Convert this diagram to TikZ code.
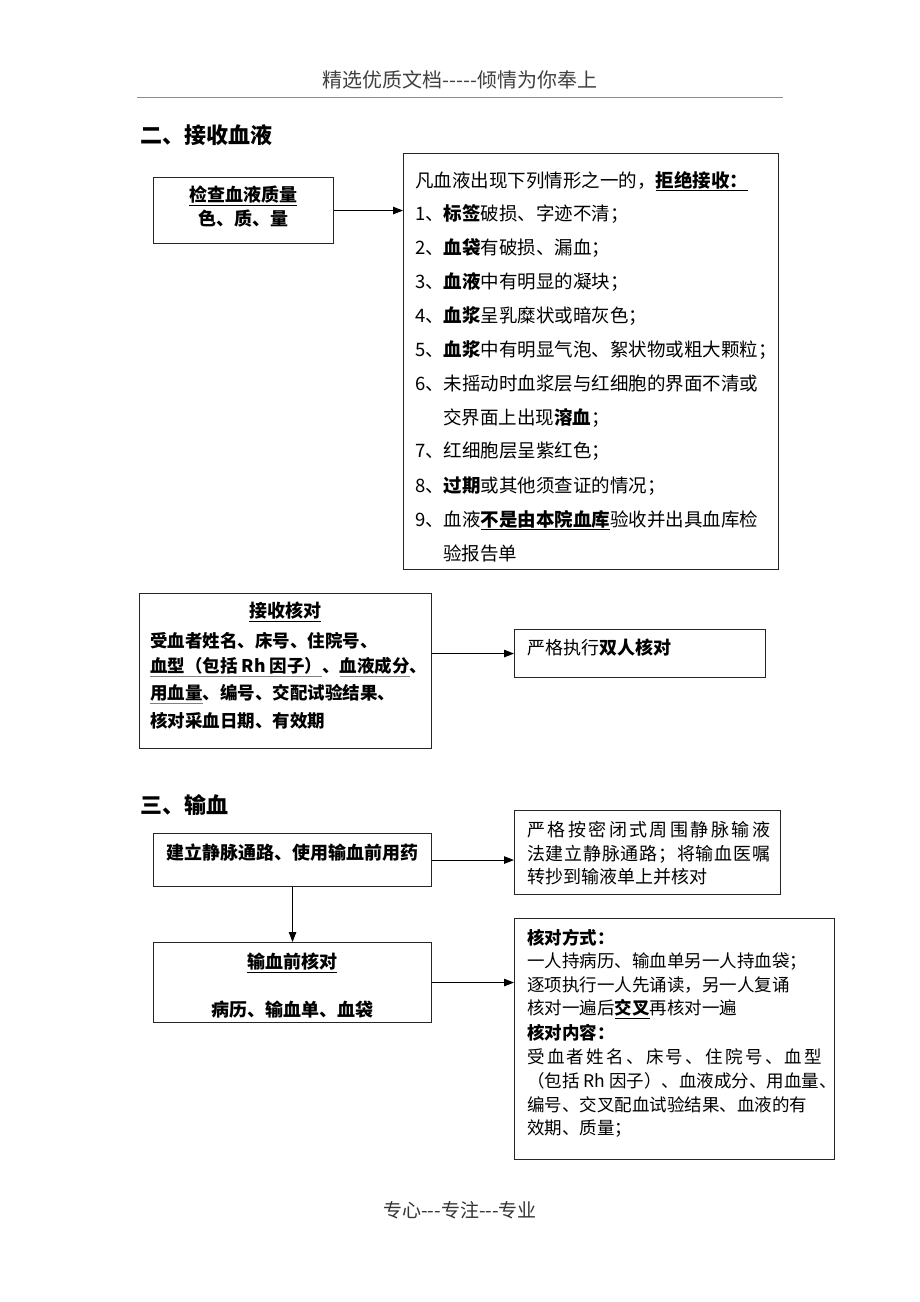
\documentclass[tikz,border=0pt]{standalone}
\usepackage{fontspec}
\setmainfont{Noto Sans CJK SC}[Ligatures=TeXOff]
\usetikzlibrary{arrows.meta}
\newcommand\gul[1]{{\color{gray}\underline{\color{black}#1}}}
\newcommand\bul[1]{\underline{\textbf{#1}}}
\newcommand\spr[2]{\makebox[#1][s]{#2}}
\tikzset{
  box/.style={draw=black!85, line width=1.1pt, inner sep=0pt, anchor=north west},
  txt/.style={anchor=west, inner sep=0pt, font=\fontsize{18}{22}\selectfont},
  txtH/.style={anchor=west, inner sep=0pt, font=\fontsize{17.5}{22}\selectfont},
  txtB/.style={anchor=west, inner sep=0pt, font=\fontsize{18.5}{22}\selectfont},
  ctxt/.style={anchor=center, inner sep=0pt, font=\fontsize{18}{22}\selectfont},
  head/.style={anchor=west, inner sep=0pt, font=\fontsize{22}{26}\selectfont\bfseries},
  arr/.style={-{Triangle[length=10pt,width=7.5pt]}, line width=1.1pt}
}
\begin{document}
\begin{tikzpicture}[x=1pt,y=-1pt]
\useasboundingbox[fill=white] (0,0) rectangle (920,1302);
% header / footer
\node[inner sep=0pt, font=\fontsize{20}{24}\selectfont, text=black!75] (hdr) at (460,80) {精选优质文档-----倾情为你奉上};
\draw[black!45, line width=0.6pt] (137,97) -- (783,97);
\node[inner sep=0pt, font=\fontsize{19}{23}\selectfont, text=black!80] (ftr) at (460,1210) {专心---专注---专业};

% section 2
\node[head] (h2) at (140,135) {二、接收血液};
\node[box, minimum width=180pt, minimum height=66pt] (A) at (153,177) {};
\node[ctxt] (a1) at (243,196) {\bul{检查血液质量}};
\node[ctxt] (a2) at (243,219) {\textbf{色、质、量}};

\node[box, minimum width=375pt, minimum height=416pt] (B) at (403,153) {};
\node[txtB] (b0) at (415,181) {凡血液出现下列情形之一的，\bul{拒绝接收：}};
\node[txtB] (b1) at (415,214) {1、\textbf{标签}破损、字迹不清；};
\node[txtB] (b2) at (415,248) {2、\textbf{血袋}有破损、漏血；};
\node[txtB] (b3) at (415,282) {3、\textbf{血液}中有明显的凝块；};
\node[txtB] (b4) at (415,316) {4、\textbf{血浆}呈乳糜状或暗灰色；};
\node[txtB] (b5) at (415,350) {5、\textbf{血浆}中有明显气泡、絮状物或粗大颗粒；};
\node[txtB] (b6) at (415,384) {6、未摇动时血浆层与红细胞的界面不清或};
\node[txtB] (b6b) at (443,418) {交界面上出现\textbf{溶血}；};
\node[txtB] (b7) at (415,451) {7、红细胞层呈紫红色；};
\node[txtB] (b8) at (415,486) {8、\textbf{过期}或其他须查证的情况；};
\node[txtB] (b9) at (415,520) {9、血液\bul{不是由本院血库}验收并出具血库检};
\node[txtB] (b9b) at (443,553) {验报告单};
\draw[arr] (A.east) -- (A.east -| B.west);

\node[box, minimum width=292pt, minimum height=155pt] (C) at (139,593) {};
\node[ctxt] (c0) at (285,612) {\bul{接收核对}};
\node[txtH] (c1) at (150,641) {\textbf{受血者姓名、床号、住院号、}};
\node[txtH] (c2) at (150,667) {\textbf{\gul{血型（包括 Rh 因子）}、\gul{血液成分}、}};
\node[txtH] (c3) at (150,694) {\textbf{\gul{用血量}、编号、交配试验结果、}};
\node[txtH] (c4) at (150,721) {\textbf{核对采血日期、有效期}};

\node[box, minimum width=251pt, minimum height=48pt] (D) at (514,629) {};
\node[txt] (d1) at (527,648) {严格执行\textbf{双人核对}};
\draw[arr] (C.east |- D.west) -- (D.west);

% section 3
\node[head] (h3) at (140,805) {三、输血};
\node[box, minimum width=278pt, minimum height=53pt] (E) at (153,833) {};
\node[ctxt] (e1) at (292,853) {\textbf{建立静脉通路、使用输血前用药}};

\node[box, minimum width=266pt, minimum height=84pt] (F) at (514,810) {};
\node[txt] (f1) at (527,830) {\spr{243pt}{严\hfil 格\hfil 按\hfil 密\hfil 闭\hfil 式\hfil 周\hfil 围\hfil 静\hfil 脉\hfil 输\hfil 液}};
\node[txt] (f2) at (527,854) {\spr{243pt}{法\hfil 建\hfil 立\hfil 静\hfil 脉\hfil 通\hfil 路\hfil ；\hfil 将\hfil 输\hfil 血\hfil 医\hfil 嘱}};
\node[txt] (f3) at (527,877) {转抄到输液单上并核对};
\draw[arr] (E.east) -- (E.east -| F.west);

\node[box, minimum width=278pt, minimum height=80pt] (G) at (153,942) {};
\node[ctxt] (g1) at (292,963) {\bul{输血前核对}};
\node[ctxt] (g2) at (292,1010) {\textbf{病历、输血单、血袋}};
\draw[arr] (E.south) -- (G.north);

\node[box, minimum width=320pt, minimum height=241pt] (H) at (514,918) {};
\node[txtH] (h1) at (527,938) {\textbf{核对方式：}};
\node[txtH] (h2l) at (527,962) {一人持病历、输血单另一人持血袋；};
\node[txtH] (h3l) at (527,985) {逐项执行一人先诵读，另一人复诵};
\node[txtH] (h4) at (527,1009) {核对一遍后\bul{交叉}再核对一遍};
\node[txtH] (h5) at (527,1033) {\textbf{核对内容：}};
\node[txtH] (h6) at (527,1057) {\spr{295pt}{受\hfil 血\hfil 者\hfil 姓\hfil 名\hfil 、\hfil 床\hfil 号\hfil 、\hfil 住\hfil 院\hfil 号\hfil 、\hfil 血\hfil 型}};
\node[txtH] (h7) at (527,1081) {（包括 Rh 因子）、血液成分、用血量、};
\node[txtH] (h8) at (527,1105) {编号、交叉配血试验结果、血液的有};
\node[txtH] (h9) at (527,1129) {效期、质量；};
\draw[arr] (G.east) -- (G.east -| H.west);
\end{tikzpicture}
\end{document}
